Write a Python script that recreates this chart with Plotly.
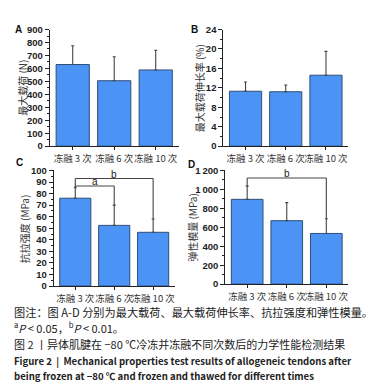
import plotly.graph_objects as go

categories = ["冻融 3 次", "冻融 6 次", "冻融 10 次"]
load_mean = [630, 505, 588]
load_err = [145, 185, 152]
elong_mean = [11.3, 11.2, 14.6]
elong_err = [1.9, 1.4, 4.9]
tensile_mean = [76, 52.5, 46.5]
tensile_err = [9, 17.5, 11.5]
modulus_mean = [895, 670, 535]
modulus_err = [140, 190, 155]
tensile_brackets = [(0, 1, 86.5, "a"), (0, 2, 93, "b")]
modulus_brackets = [(0, 2, 1120, "b")]

W, H = 374, 389
FONT = "Noto Sans CJK SC"
BAR = "#4b93f4"
EDGE = "#2f4f78"

def px(x):
    return x / W

def py(y):
    return 1 - y / H

panels = [
    dict(name="A", mean=load_mean, err=load_err, xd=(42, 171), yd=(16, 136), yr=[0, 900], dt=100, minor=50,
         title="最大载荷 (N)", tx=15, letter=(11, 16)),
    dict(name="B", mean=elong_mean, err=elong_err, xd=(216, 341), yd=(16, 136), yr=[0, 24], dt=4, minor=2,
         title="最大载荷伸长率 (%)", tx=192, letter=(187, 16)),
    dict(name="C", mean=tensile_mean, err=tensile_err, xd=(46, 167), yd=(161, 280), yr=[0, 100], dt=10, minor=5,
         title="抗拉强度 (MPa)", tx=16, letter=(12, 153)),
    dict(name="D", mean=modulus_mean, err=modulus_err, xd=(218, 341), yd=(161, 278), yr=[0, 1200], dt=200, minor=100,
         title="弹性模量 (MPa)", tx=185, letter=(184, 155)),
]

fig = go.Figure()
layout = dict(width=W, height=H, margin=dict(l=0, r=0, t=0, b=0), plot_bgcolor="white",
              paper_bgcolor="white", showlegend=False, font=dict(family=FONT, color="#222"))
annotations = []
shapes = []

for i, p in enumerate(panels):
    n = "" if i == 0 else str(i + 1)
    fig.add_trace(go.Bar(
        x=list(range(len(categories))), y=p["mean"], xaxis="x" + n, yaxis="y" + n,
        marker=dict(color=BAR, line=dict(color=EDGE, width=1)), width=0.8,
        error_y=dict(type="data", array=p["err"], arrayminus=[0] * 3, symmetric=False,
                     color="#444", thickness=1.1, width=1.5),
    ))
    ticks = list(range(p["yr"][0], p["yr"][1] + 1, p["dt"]))
    if p["name"] == "D":
        ttext = [f"{t:,}".replace(",", "\u2009") if t >= 1000 else str(t) for t in ticks]
    else:
        ttext = [str(t) for t in ticks]
    layout["xaxis" + n] = dict(
        domain=[px(p["xd"][0]), px(p["xd"][1])], anchor="y" + n, range=[-0.55, 2.55],
        tickvals=[0, 1, 2], ticktext=categories, tickangle=0, showline=True, linecolor="#222", linewidth=1.2,
        ticks="outside", ticklen=3, tickcolor="#222", tickfont=dict(size=9.5, family=FONT, color="#333"),
        showgrid=False, zeroline=False, fixedrange=True)
    layout["yaxis" + n] = dict(
        domain=[py(p["yd"][1]), py(p["yd"][0])], anchor="x" + n, range=p["yr"],
        tickvals=ticks, ticktext=ttext, showline=True, linecolor="#222", linewidth=1.2,
        ticks="outside", ticklen=4, tickcolor="#222",
        tickfont=dict(size=9.5, family="Liberation Sans", color="#222", weight="bold"),
        minor=dict(tickvals=list(range(p["yr"][0], p["yr"][1] + 1, p["minor"])), ticks="outside", ticklen=2,
                   tickcolor="#222", showgrid=False),
        showgrid=False, zeroline=False, fixedrange=True)
    annotations.append(dict(x=px(p["tx"]), y=py((p["yd"][0] + p["yd"][1]) / 2), xref="paper", yref="paper",
                            text=p["title"], textangle=-90, showarrow=False, xanchor="center", yanchor="middle",
                            font=dict(size=10, family=FONT, color="#333")))
    annotations.append(dict(x=px(p["letter"][0]), y=py(p["letter"][1]), xref="paper", yref="paper",
                            text="<b>" + p["name"] + "</b>", showarrow=False, xanchor="center", yanchor="middle",
                            font=dict(size=10, family="Liberation Sans", color="#111")))

def brackets(blist, mean, err, n):
    for (a, b, lvl, lab) in blist:
        xr, yr = "x" + n, "y" + n
        for (x0, y0, x1, y1) in [(a, mean[a] + err[a], a, lvl), (a, lvl, b, lvl), (b, lvl, b, mean[b] + err[b])]:
            shapes.append(dict(type="line", xref=xr, yref=yr, x0=x0, y0=y0, x1=x1, y1=y1,
                               line=dict(color="#444", width=1.1)))
        annotations.append(dict(x=(a + b) / 2, y=lvl, xref=xr, yref=yr, text=lab, showarrow=False,
                                yanchor="bottom", yshift=-3, font=dict(size=10, family="Liberation Sans", color="#222")))

brackets(tensile_brackets, tensile_mean, tensile_err, "3")
brackets(modulus_brackets, modulus_mean, modulus_err, "4")

caption = [
    ("图注：图 A-D 分别为最大载荷、最大载荷伸长率、抗拉强度和弹性模量。", 307, 11.2),
    ("<sup>a</sup><i>P</i> &lt; 0.05，<sup>b</sup><i>P</i> &lt; 0.01。", 323, 11),
    ("图 2 丨异体肌腱在 −80 ℃冷冻并冻融不同次数后的力学性能检测结果", 340, 11),
    ("<b>Figure 2  |  Mechanical properties test results of allogeneic tendons after</b>", 357, 9.6),
    ("<b>being frozen at −80 ℃ and frozen and thawed for different times</b>", 373, 9.6),
]
for text, y, fs in caption:
    annotations.append(dict(x=px(4), y=py(y), xref="paper", yref="paper", text=text, showarrow=False,
                            xanchor="left", yanchor="middle", font=dict(size=fs, family=FONT, color="#222")))

layout["annotations"] = annotations
layout["shapes"] = shapes
fig.update_layout(**layout)
fig.write_html("out.html")
